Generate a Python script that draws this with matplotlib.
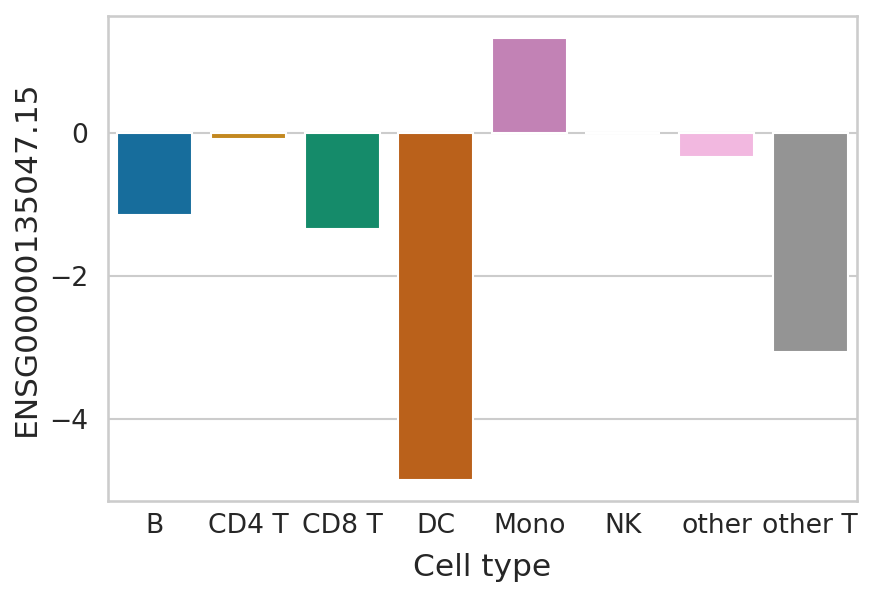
import matplotlib
matplotlib.use("Agg")
import matplotlib.pyplot as plt
import seaborn as sns
import pandas as pd

cell_types = ["B", "CD4 T", "CD8 T", "DC", "Mono", "NK", "other", "other T"]
values = [-1.14, -0.08, -1.34, -4.86, 1.33, 0.0, -0.34, -3.07]
ylabel = "ENSG00000135047.15"
xlabel = "Cell type"

sns.set_theme(style="whitegrid")
W, H, DPI = 874, 597, 150
fig = plt.figure(figsize=(W / DPI, H / DPI), dpi=DPI)
ax = fig.add_axes([108 / W, 1 - 501 / H, (857 - 108) / W, (501 - 16) / H])
df = pd.DataFrame({"cell": cell_types, "val": values})
sns.barplot(data=df, x="cell", y="val", hue="cell", palette="colorblind", ax=ax, legend=False)
ax.set_ylim(-5.15, 1.64)
ax.set_yticks([-4, -2, 0])
ax.tick_params(axis="both", labelsize=12.8)
ax.tick_params(axis="x", pad=5.8, length=0)
ax.set_xlabel(xlabel, fontsize=15, labelpad=6.5)
ax.set_ylabel(ylabel, fontsize=15)
fig.savefig("out.png", dpi=DPI)
